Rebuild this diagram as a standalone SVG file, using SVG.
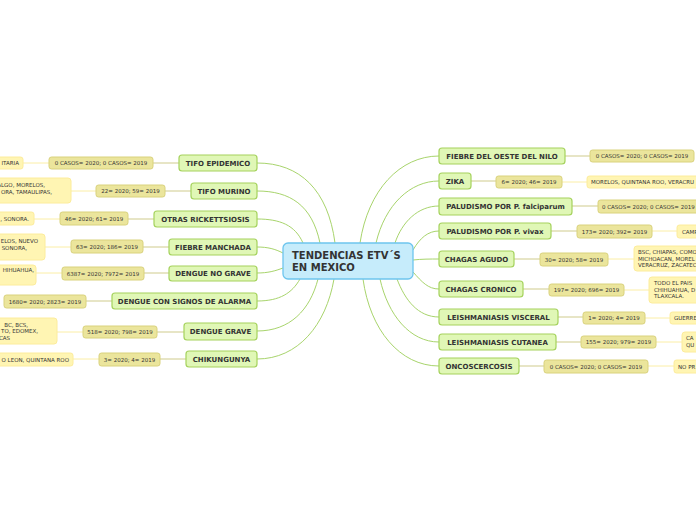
<svg xmlns="http://www.w3.org/2000/svg" width="696" height="520" viewBox="0 0 696 520">
<style>
text{font-family:"DejaVu Sans","Verdana",sans-serif;fill:#333}
.main rect{fill:#e0f7b6;stroke:#a5d25d;stroke-width:1.2}
.main text{font-size:7px;font-weight:bold;text-anchor:middle}
.val rect{fill:#ebe59c;stroke:#d9d27d;stroke-width:1}
.val text{font-size:5.5px;text-anchor:middle}
.det rect{fill:#fff5b3;stroke:#fcec9c;stroke-width:1}
.det text{font-size:5.5px}
.L text{text-anchor:end}
.conn path{fill:none;stroke:#a8d46c;stroke-width:1}
.conn .a{stroke:#cfcb8c}
.conn .b{stroke:#fbeea6}
</style>
<rect width="696" height="520" fill="#ffffff"/>
<g class="conn">
<path d="M335,243 C328,190 300,163 257,163"/>
<path d="M320,243 C312,205 290,191 257,191"/>
<path d="M303,243 C295,225 280,219 257,219"/>
<path d="M283,253 C275,249 268,247 257,247"/>
<path d="M283,268 C275,271 268,273 257,273"/>
<path d="M300,279 C292,293 280,301 257,301"/>
<path d="M318,279 C310,310 290,331 257,331"/>
<path d="M334,279 C326,325 298,359 257,359"/>
<path d="M360,243 C368,190 400,156 439,156"/>
<path d="M376,243 C385,205 410,181 439,181"/>
<path d="M395,243 C402,222 418,206 439,206"/>
<path d="M413,250 C420,238 428,231 439,231"/>
<path d="M413,260 C422,259 430,259 439,259"/>
<path d="M413,272 C422,282 428,289 439,289"/>
<path d="M397,279 C405,300 418,317 439,317"/>
<path d="M380,279 C388,315 410,342 439,342"/>
<path d="M363,279 C370,330 400,366 439,366"/>
<path class="a" d="M153,163 H179"/><path class="b" d="M23,163 H49"/>
<path class="a" d="M165,191 H191"/><path class="b" d="M71,191 H96"/>
<path class="a" d="M128,219 H154"/><path class="b" d="M34,219 H60"/>
<path class="a" d="M143,247 H169"/><path class="b" d="M45,247 H71"/>
<path class="a" d="M144,273 H169"/><path class="b" d="M36,273 H62"/>
<path class="a" d="M86,301 H112"/>
<path class="a" d="M157,332 H184"/><path class="b" d="M57,332 H83"/>
<path class="a" d="M160,359 H186"/><path class="b" d="M73,359 H99"/>
<path class="a" d="M565,156 H590"/>
<path class="a" d="M471,181 H496"/><path class="b" d="M562,182 H587"/>
<path class="a" d="M572,206 H598"/>
<path class="a" d="M551,231 H577"/><path class="b" d="M652,231 H677"/>
<path class="a" d="M514,259 H540"/><path class="b" d="M608,259 H634"/>
<path class="a" d="M523,289 H549"/><path class="b" d="M624,290 H649"/>
<path class="a" d="M558,317 H583"/><path class="b" d="M645,318 H670"/>
<path class="a" d="M556,342 H581"/><path class="b" d="M656,342 H682"/>
<path class="a" d="M519,366 H544"/><path class="b" d="M648,366 H674"/>
</g>
<g id="center">
<rect x="283" y="243" width="130" height="36" rx="5" fill="#c6ecfb" stroke="#6dc5ee" stroke-width="1.3"/>
<text x="292" y="259" font-size="10" font-weight="bold" fill="#222">TENDENCIAS ETV´S</text>
<text x="292" y="270.5" font-size="10" font-weight="bold" fill="#222">EN MEXICO</text>
</g>
<g id="tifo-epidemico" class="main"><rect x="179" y="155" width="78" height="16" rx="3"/><text x="218" y="165.5">TIFO EPIDEMICO</text></g>
<g id="tifo-epidemico-val" class="val"><rect x="49" y="157" width="104" height="12" rx="2.5"/><text x="101" y="165">0 CASOS= 2020; 0 CASOS= 2019</text></g>
<g id="tifo-epidemico-det" class="det L"><rect x="-20" y="157" width="43" height="12" rx="2.5"/><text x="19" y="165">ITARIA</text></g>
<g id="tifo-murino" class="main"><rect x="191" y="183" width="66" height="16" rx="3"/><text x="224" y="193.5">TIFO MURINO</text></g>
<g id="tifo-murino-val" class="val"><rect x="96" y="185" width="69" height="12" rx="2.5"/><text x="130.5" y="193">22= 2020; 59= 2019</text></g>
<g id="tifo-murino-det" class="det L"><rect x="-20" y="178" width="91" height="25" rx="3"/><text x="45" y="186.5">ALGO, MORELOS,</text><text x="52" y="193.5">ORA, TAMAULIPAS,</text></g>
<g id="otras" class="main"><rect x="154" y="211" width="103" height="16" rx="3"/><text x="205.5" y="221.5">OTRAS RICKETTSIOSIS</text></g>
<g id="otras-val" class="val"><rect x="60" y="212" width="68" height="13" rx="2.5"/><text x="94" y="220.5">46= 2020; 61= 2019</text></g>
<g id="otras-det" class="det L"><rect x="-20" y="212" width="54" height="13" rx="2.5"/><text x="29" y="220.5">, SONORA.</text></g>
<g id="fiebre-manchada" class="main"><rect x="169" y="239" width="88" height="16" rx="3"/><text x="213" y="249.5">FIEBRE MANCHADA</text></g>
<g id="fiebre-manchada-val" class="val"><rect x="71" y="240" width="72" height="13" rx="2.5"/><text x="107" y="248.5">63= 2020; 186= 2019</text></g>
<g id="fiebre-manchada-det" class="det L"><rect x="-20" y="234" width="65" height="26" rx="3"/><text x="38" y="243">ELOS, NUEVO</text><text x="27" y="249.5">SONORA,</text></g>
<g id="dengue-no-grave" class="main"><rect x="169" y="266" width="88" height="15" rx="3"/><text x="213" y="276">DENGUE NO GRAVE</text></g>
<g id="dengue-no-grave-val" class="val"><rect x="62" y="267" width="82" height="13" rx="2.5"/><text x="103" y="275.5">6387= 2020; 7972= 2019</text></g>
<g id="dengue-no-grave-det" class="det L"><rect x="-20" y="265" width="56" height="20" rx="3"/><text x="34" y="272">HIHUAHUA,</text></g>
<g id="dengue-alarma" class="main"><rect x="112" y="293" width="145" height="16" rx="3"/><text x="184.5" y="303.5">DENGUE CON SIGNOS DE ALARMA</text></g>
<g id="dengue-alarma-val" class="val"><rect x="4" y="295" width="82" height="13" rx="2.5"/><text x="45" y="303.5">1680= 2020; 2823= 2019</text></g>
<g id="dengue-grave" class="main"><rect x="184" y="323" width="73" height="17" rx="3"/><text x="220.5" y="334">DENGUE GRAVE</text></g>
<g id="dengue-grave-val" class="val"><rect x="83" y="326" width="74" height="12" rx="2.5"/><text x="120" y="334">518= 2020; 798= 2019</text></g>
<g id="dengue-grave-det" class="det L"><rect x="-20" y="318" width="77" height="26" rx="3"/><text x="28" y="327">BC, BCS,</text><text x="38" y="333">TO, EDOMEX,</text><text x="10" y="340">CAS</text></g>
<g id="chikungunya" class="main"><rect x="186" y="351" width="71" height="16" rx="3"/><text x="221.5" y="361.5">CHIKUNGUNYA</text></g>
<g id="chikungunya-val" class="val"><rect x="99" y="353" width="61" height="13" rx="2.5"/><text x="129.5" y="361.5">3= 2020; 4= 2019</text></g>
<g id="chikungunya-det" class="det L"><rect x="-20" y="353" width="93" height="13" rx="2.5"/><text x="69" y="361.5">O LEON, QUINTANA ROO</text></g>
<g id="nilo" class="main"><rect x="439" y="148" width="126" height="16" rx="3"/><text x="502" y="158.5">FIEBRE DEL OESTE DEL NILO</text></g>
<g id="nilo-val" class="val"><rect x="590" y="150" width="104" height="12" rx="2.5"/><text x="642" y="158">0 CASOS= 2020; 0 CASOS= 2019</text></g>
<g id="zika" class="main"><rect x="439" y="173" width="32" height="16" rx="3"/><text x="455" y="183.5">ZIKA</text></g>
<g id="zika-val" class="val"><rect x="496" y="176" width="66" height="12" rx="2.5"/><text x="529" y="184">6= 2020; 46= 2019</text></g>
<g id="zika-det" class="det"><rect x="587" y="176" width="130" height="12" rx="2.5"/><text x="591" y="184">MORELOS, QUINTANA ROO, VERACRU</text></g>
<g id="falciparum" class="main"><rect x="439" y="198" width="133" height="17" rx="3"/><text x="505.5" y="209">PALUDISMO POR P. falciparum</text></g>
<g id="falciparum-val" class="val"><rect x="598" y="200" width="110" height="13" rx="2.5"/><text x="602" y="208.5" style="text-anchor:start">0 CASOS= 2020; 0 CASOS= 2019</text></g>
<g id="vivax" class="main"><rect x="439" y="223" width="112" height="16" rx="3"/><text x="495" y="233.5">PALUDISMO POR P. vivax</text></g>
<g id="vivax-val" class="val"><rect x="577" y="225" width="75" height="13" rx="2.5"/><text x="614.5" y="233.5">173= 2020; 392= 2019</text></g>
<g id="vivax-det" class="det"><rect x="677" y="225" width="40" height="13" rx="2.5"/><text x="682" y="233.5">CAMP</text></g>
<g id="chagas-agudo" class="main"><rect x="439" y="251" width="75" height="16" rx="3"/><text x="476.5" y="261.5">CHAGAS AGUDO</text></g>
<g id="chagas-agudo-val" class="val"><rect x="540" y="253" width="68" height="13" rx="2.5"/><text x="574" y="261.5">30= 2020; 58= 2019</text></g>
<g id="chagas-agudo-det" class="det"><rect x="634" y="246" width="80" height="25" rx="3"/><text x="638" y="254">BSC, CHIAPAS, COMO</text><text x="638" y="260.5">MICHOACAN, MOREL</text><text x="638" y="267">VERACRUZ, ZACATEC</text></g>
<g id="chagas-cronico" class="main"><rect x="439" y="281" width="84" height="16" rx="3"/><text x="481" y="291.5">CHAGAS CRONICO</text></g>
<g id="chagas-cronico-val" class="val"><rect x="549" y="284" width="75" height="12" rx="2.5"/><text x="586.5" y="292">197= 2020; 696= 2019</text></g>
<g id="chagas-cronico-det" class="det"><rect x="649" y="277" width="70" height="26" rx="3"/><text x="654" y="285">TODO EL PAIS</text><text x="654" y="291.5">CHIHUAHUA, D</text><text x="654" y="298">TLAXCALA.</text></g>
<g id="leish-visceral" class="main"><rect x="439" y="309" width="119" height="16" rx="3"/><text x="498.5" y="319.5">LEISHMANIASIS VISCERAL</text></g>
<g id="leish-visceral-val" class="val"><rect x="583" y="312" width="62" height="12" rx="2.5"/><text x="614" y="320">1= 2020; 4= 2019</text></g>
<g id="leish-visceral-det" class="det"><rect x="670" y="312" width="40" height="12" rx="2.5"/><text x="674" y="320">GUERRE</text></g>
<g id="leish-cutanea" class="main"><rect x="439" y="334" width="117" height="16" rx="3"/><text x="497.5" y="344.5">LEISHMANIASIS CUTANEA</text></g>
<g id="leish-cutanea-val" class="val"><rect x="581" y="336" width="75" height="12" rx="2.5"/><text x="618.5" y="344">155= 2020; 979= 2019</text></g>
<g id="leish-cutanea-det" class="det"><rect x="682" y="332" width="30" height="20" rx="3"/><text x="686" y="340">CA</text><text x="686" y="347">QU</text></g>
<g id="oncoscercosis" class="main"><rect x="439" y="358" width="80" height="16" rx="3"/><text x="479" y="368.5">ONCOSCERCOSIS</text></g>
<g id="oncoscercosis-val" class="val"><rect x="544" y="360" width="104" height="13" rx="2.5"/><text x="596" y="368.5">0 CASOS= 2020; 0 CASOS= 2019</text></g>
<g id="oncoscercosis-det" class="det"><rect x="674" y="360" width="40" height="13" rx="2.5"/><text x="678" y="368.5">NO PR</text></g>
</svg>
